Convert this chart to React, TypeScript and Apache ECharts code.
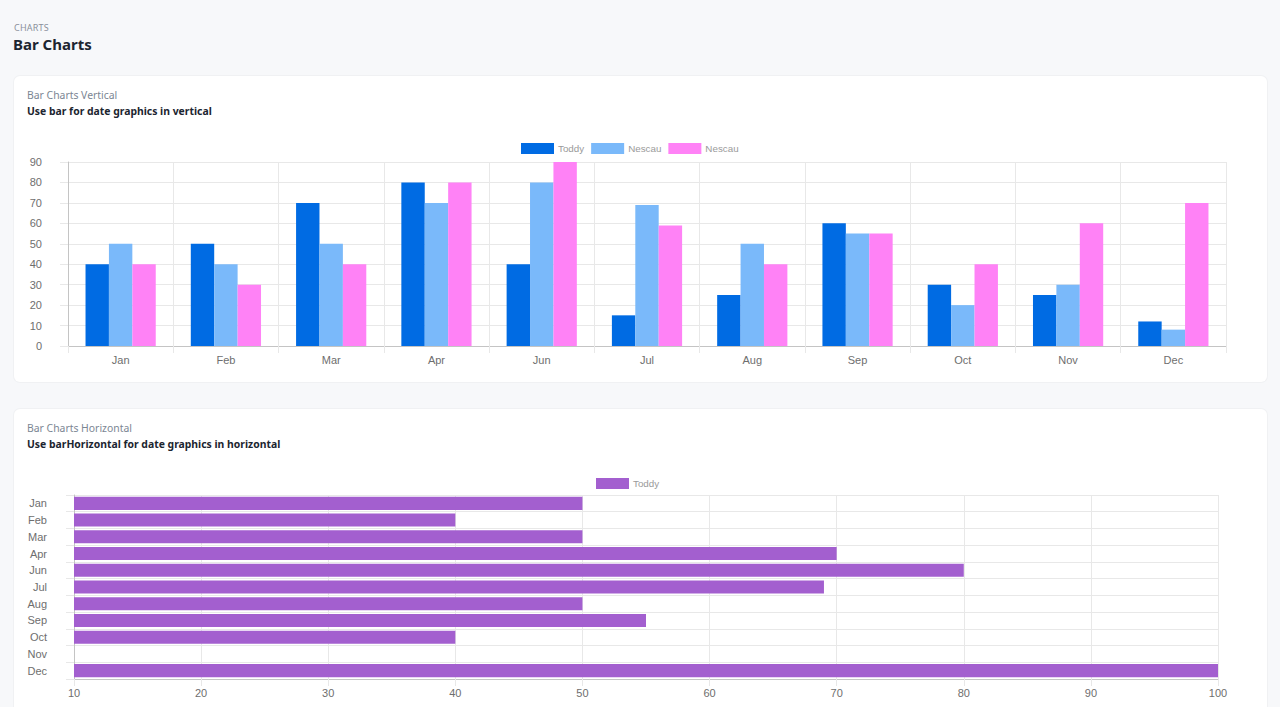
import React, { useEffect, useRef } from "react";
import * as echarts from "echarts";

const vCategories = ["Jan", "Feb", "Mar", "Apr", "Jun", "Jul", "Aug", "Sep", "Oct", "Nov", "Dec"];
const toddyValues = [40, 50, 70, 80, 40, 15, 25, 60, 30, 25, 12];
const nescauBlueValues = [50, 40, 50, 70, 80, 69, 50, 55, 20, 30, 8];
const nescauPinkValues = [40, 30, 40, 80, 90, 59, 40, 55, 40, 60, 70];

const hCategories = ["Jan", "Feb", "Mar", "Apr", "Jun", "Jul", "Aug", "Sep", "Oct", "Nov", "Dec"];
const hToddyValues = [50, 40, 50, 70, 80, 69, 50, 55, 40, 10, 100];

const C_TODDY = "#006be3";
const C_NESCAU = "#7ab9fa";
const C_PINK = "#ff82f6";
const C_PURPLE = "#a35fcf";
const GRID = "#e8e8e8";
const AXIS = "#c4c4c4";
const LABEL = "#6e6e6e";
const FONT = "'Liberation Sans', Arial, sans-serif";

function Chart({ option, style }: { option: any; style: React.CSSProperties }) {
  const ref = useRef<HTMLDivElement>(null);
  useEffect(() => {
    if (!ref.current) return;
    const chart = echarts.init(ref.current, undefined, { renderer: "svg" });
    chart.setOption(option);
    return () => chart.dispose();
  }, []);
  return <div ref={ref} style={style} />;
}

const legendBase = {
  itemWidth: 33,
  itemHeight: 11,
  itemGap: 7,
  icon: "rect",
  textStyle: { color: "#9a9a9a", fontSize: 9.8, fontFamily: FONT, padding: [0, 0, 0, -1] },
  formatter: (n: string) => n.trim(),
};

const verticalOption = {
  animation: false,
  textStyle: { fontFamily: FONT },
  legend: { ...legendBase, top: 8, left: 502 },
  grid: { left: 54, right: 41, top: 32, bottom: 29, containLabel: false },
  xAxis: {
    type: "category",
    data: vCategories,
    axisLine: { show: true, lineStyle: { color: AXIS } },
    axisTick: { show: true, length: 7, lineStyle: { color: GRID } },
    splitLine: { show: true, lineStyle: { color: GRID } },
    axisLabel: { color: LABEL, fontSize: 11, margin: 8, fontFamily: FONT },
  },
  yAxis: {
    type: "value",
    min: 0,
    max: 90,
    interval: 10,
    axisLine: { show: true, lineStyle: { color: AXIS } },
    axisTick: { show: true, length: 8, lineStyle: { color: GRID } },
    splitLine: { show: true, lineStyle: { color: GRID } },
    axisLabel: { color: LABEL, fontSize: 11, margin: 26, fontFamily: FONT },
  },
  series: [
    { name: "Toddy", type: "bar", data: toddyValues, itemStyle: { color: C_TODDY }, barGap: "0%", barCategoryGap: "33.3%" },
    { name: "Nescau", type: "bar", data: nescauBlueValues, itemStyle: { color: C_NESCAU }, barGap: "0%", barCategoryGap: "33.3%" },
    { name: "Nescau ", type: "bar", data: nescauPinkValues, itemStyle: { color: C_PINK }, barGap: "0%", barCategoryGap: "33.3%" },
  ],
};

const horizontalOption = {
  animation: false,
  textStyle: { fontFamily: FONT },
  legend: { ...legendBase, top: 8, left: 577 },
  grid: { left: 60, right: 49, top: 30, bottom: 28, containLabel: false },
  xAxis: {
    type: "value",
    min: 10,
    max: 100,
    interval: 10,
    axisLine: { show: true, lineStyle: { color: AXIS } },
    axisTick: { show: true, length: 7, lineStyle: { color: GRID } },
    splitLine: { show: true, lineStyle: { color: GRID } },
    axisLabel: { color: LABEL, fontSize: 11, margin: 8, fontFamily: FONT },
  },
  yAxis: {
    type: "category",
    inverse: true,
    data: hCategories,
    axisLine: { show: true, lineStyle: { color: AXIS } },
    axisTick: { show: true, length: 8, lineStyle: { color: GRID } },
    splitLine: { show: true, lineStyle: { color: GRID } },
    axisLabel: { color: LABEL, fontSize: 11, margin: 27, fontFamily: FONT },
  },
  series: [
    { name: "Toddy", type: "bar", data: hToddyValues, itemStyle: { color: C_PURPLE }, barCategoryGap: "22%" },
  ],
};

const headerFont = "'Noto Sans', 'Open Sans', sans-serif";

export default function App() {
  const card: React.CSSProperties = {
    position: "absolute",
    left: 14,
    width: 1253,
    background: "#fff",
    borderRadius: 6,
    boxShadow: "0 0 0 1px #f0f1f3",
  };
  const sub: React.CSSProperties = { position: "absolute", left: 13, top: 12, fontSize: 10.4, color: "#7b8693" };
  const bold: React.CSSProperties = { position: "absolute", left: 13, top: 28, fontSize: 10.4, fontWeight: 700, color: "#1c2530" };
  return (
    <div
      style={{
        position: "fixed",
        left: 0,
        top: 0,
        width: 1280,
        height: 707,
        overflow: "hidden",
        background: "#f7f8fa",
        fontFamily: headerFont,
      }}
    >
      <div style={{ position: "absolute", left: 14, top: 21, fontSize: 9, color: "#8a909a", letterSpacing: 0.2 }}>CHARTS</div>
      <div style={{ position: "absolute", left: 13, top: 34, fontSize: 15, fontWeight: 700, color: "#1c2530" }}>Bar Charts</div>

      <div style={{ ...card, top: 76, height: 306 }}>
        <div style={sub}>Bar Charts Vertical</div>
        <div style={bold}>Use bar for date graphics in vertical</div>
      </div>
      <Chart option={verticalOption} style={{ position: "absolute", left: 14, top: 130, width: 1253, height: 245 }} />

      <div style={{ ...card, top: 409, height: 320 }}>
        <div style={sub}>Bar Charts Horizontal</div>
        <div style={bold}>Use barHorizontal for date graphics in horizontal</div>
      </div>
      <Chart option={horizontalOption} style={{ position: "absolute", left: 14, top: 465, width: 1253, height: 242 }} />
    </div>
  );
}
